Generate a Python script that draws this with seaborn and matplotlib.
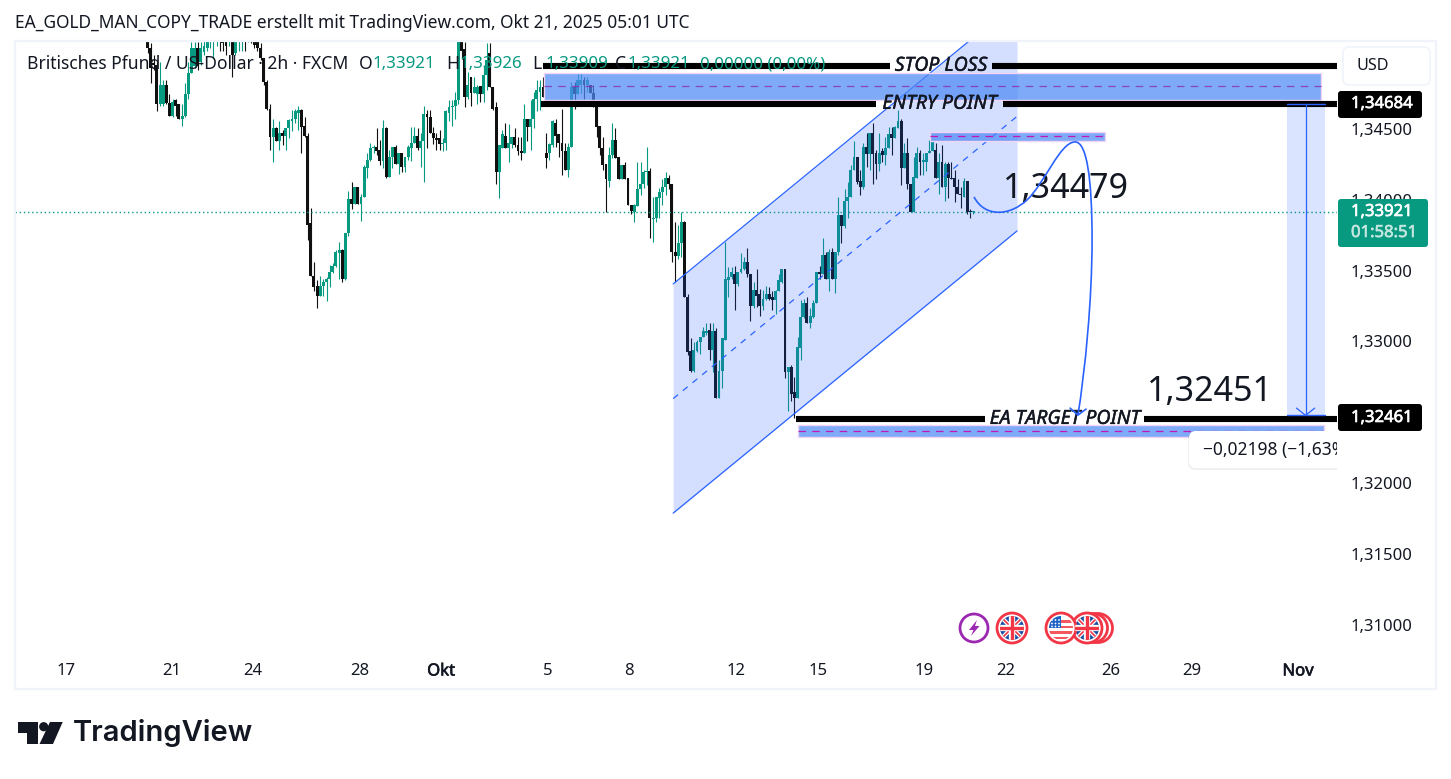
import numpy as np
import pandas as pd
import matplotlib
matplotlib.use("Agg")
import matplotlib.pyplot as plt
import matplotlib.patheffects as pe
import seaborn as sns
from matplotlib.patches import Rectangle, Circle, Polygon, FancyBboxPatch, PathPatch
from matplotlib.path import Path
from matplotlib.transforms import ScaledTranslation

# kurse in 1/10000 (oben abgeschnittene kerzen sind geschaetzt)
opens = [
    13512,13508,13497,13496,13468,13468,13482,13469,13460,13471,
    13468,13458,13460,13475,13490,13495,13508,13498,13505,13508,
    13512,13516,13515,13520,13518,13515,13513,13518,13504,13513,
    13515,13519,13516,13519,13515,13512,13508,13501,13484,13465,
    13445,13451,13442,13448,13446,13451,13456,13458,13462,13464,
    13453,13446,13384,13347,13340,13333,13340,13343,13345,13350,
    13354,13363,13365,13345,13377,13401,13398,13410,13398,13403,
    13423,13429,13437,13438,13436,13428,13451,13417,13431,13438,
    13426,13434,13424,13431,13437,13441,13446,13437,13442,13461,
    13459,13448,13444,13444,13440,13441,13462,13466,13467,13471,
    13515,13507,13473,13487,13476,13475,13481,13475,13489,13504,
    13480,13466,13420,13437,13446,13437,13440,13445,13439,13435,
    13434,13458,13452,13458,13472,13477,13480,13434,13434,13439,
    13455,13447,13441,13435,13422,13438,13480,13475,13482,13485,
    13482,13482,13476,13471,13453,13437,13426,13414,13432,13443,
    13431,13415,13425,13416,13397,13392,13396,13408,13412,13420,
    13421,13387,13388,13402,13406,13410,13416,13412,13364,13361,
    13370,13385,13332,13294,13280,13294,13300,13304,13307,13309,
    13295,13308,13261,13280,13302,13344,13346,13348,13341,13350,
    13352,13357,13348,13326,13337,13334,13326,13331,13334,13332,
    13330,13336,13343,13352,13279,13283,13265,13261,13296,13318,
    13328,13314,13318,13328,13350,13348,13362,13345,13364,13345,
    13364,13390,13382,13400,13403,13422,13431,13414,13410,13438,
    13433,13448,13434,13426,13435,13432,13437,13447,13444,13451,
    13456,13423,13434,13412,13392,13416,13434,13427,13427,13434,
    13435,13436,13416,13427,13410,13426,13416,13416,13410,13405,
    13403,13414,13393,13392,
]
highs = [
    13513,13511,13503,13498,13498,13485,13485,13475,13472,13472,
    13468,13468,13483,13498,13512,13512,13512,13512,13513,13516,
    13522,13523,13522,13522,13520,13517,13522,13520,13522,13522,
    13522,13521,13522,13521,13517,13514,13511,13501,13485,13468,
    13458,13452,13456,13450,13451,13458,13464,13465,13467,13465,
    13459,13448,13395,13357,13344,13347,13345,13346,13355,13356,
    13365,13371,13366,13377,13407,13413,13410,13410,13405,13425,
    13434,13441,13439,13451,13443,13457,13452,13436,13438,13439,
    13434,13434,13431,13439,13452,13452,13451,13448,13467,13464,
    13464,13452,13448,13450,13444,13464,13471,13471,13477,13520,
    13520,13512,13491,13487,13487,13482,13481,13496,13511,13511,
    13480,13470,13439,13450,13455,13454,13445,13451,13445,13445,
    13468,13458,13471,13477,13485,13485,13487,13448,13441,13457,
    13458,13447,13465,13441,13441,13484,13484,13490,13490,13487,
    13487,13482,13482,13471,13453,13445,13426,13438,13455,13451,
    13431,13425,13427,13416,13397,13398,13427,13427,13422,13438,
    13423,13403,13403,13409,13415,13420,13418,13412,13385,13383,
    13392,13386,13334,13303,13300,13302,13304,13311,13314,13314,
    13314,13310,13288,13303,13371,13353,13353,13354,13350,13363,
    13360,13367,13348,13343,13352,13338,13337,13340,13339,13336,
    13337,13348,13352,13352,13283,13284,13276,13304,13330,13331,
    13332,13324,13330,13350,13354,13374,13364,13366,13367,13364,
    13403,13390,13408,13413,13425,13442,13431,13422,13441,13448,
    13448,13455,13436,13448,13437,13445,13452,13452,13453,13464,
    13458,13441,13444,13412,13431,13438,13436,13434,13434,13443,
    13442,13441,13434,13439,13427,13427,13427,13422,13415,13410,
    13416,13414,13394,13393,
]
lows = [
    13504,13483,13492,13463,13467,13467,13468,13460,13459,13460,
    13458,13453,13459,13472,13490,13494,13492,13496,13503,13506,
    13508,13501,13509,13506,13506,13503,13509,13487,13503,13506,
    13506,13506,13512,13511,13508,13506,13499,13482,13464,13436,
    13427,13442,13436,13439,13436,13444,13449,13455,13450,13434,
    13445,13372,13347,13336,13324,13333,13333,13329,13339,13349,
    13353,13345,13343,13344,13375,13394,13398,13398,13386,13403,
    13416,13428,13434,13432,13425,13423,13416,13417,13423,13426,
    13419,13420,13420,13429,13428,13441,13436,13424,13413,13437,
    13448,13440,13436,13436,13435,13436,13456,13453,13458,13468,
    13500,13466,13472,13467,13476,13468,13470,13470,13478,13480,
    13464,13412,13402,13437,13437,13427,13437,13438,13432,13429,
    13434,13442,13436,13451,13463,13464,13473,13423,13429,13438,
    13438,13431,13418,13422,13417,13438,13465,13475,13476,13472,
    13477,13476,13466,13445,13432,13422,13392,13410,13430,13430,
    13415,13415,13415,13397,13391,13385,13396,13404,13409,13411,
    13374,13371,13385,13388,13397,13404,13408,13357,13343,13359,
    13360,13332,13291,13279,13279,13293,13292,13304,13305,13288,
    13279,13261,13261,13268,13302,13332,13345,13323,13340,13349,
    13351,13346,13315,13324,13325,13319,13323,13330,13330,13323,
    13320,13336,13342,13275,13252,13259,13247,13261,13288,13317,
    13314,13310,13317,13328,13345,13348,13345,13336,13345,13335,
    13362,13370,13381,13388,13403,13422,13412,13404,13408,13424,
    13422,13412,13415,13421,13427,13425,13437,13432,13444,13451,
    13411,13423,13408,13392,13392,13416,13418,13418,13421,13434,
    13435,13416,13405,13410,13400,13402,13415,13399,13405,13395,
    13403,13391,13388,13391,
]
closes = [
    13508,13494,13496,13468,13482,13482,13469,13460,13470,13467,
    13458,13460,13475,13490,13508,13508,13495,13508,13509,13512,
    13520,13522,13520,13513,13511,13509,13520,13503,13520,13520,
    13520,13515,13520,13512,13510,13508,13501,13484,13465,13445,
    13451,13442,13448,13446,13451,13457,13458,13463,13464,13452,
    13446,13383,13347,13339,13333,13340,13343,13345,13350,13354,
    13364,13365,13345,13377,13401,13398,13410,13398,13403,13424,
    13429,13437,13438,13435,13428,13451,13417,13431,13438,13426,
    13434,13424,13431,13438,13441,13446,13437,13442,13461,13459,
    13448,13444,13443,13440,13441,13463,13466,13467,13471,13515,
    13506,13473,13482,13476,13480,13480,13475,13489,13499,13480,
    13465,13420,13439,13447,13437,13441,13445,13439,13435,13434,
    13458,13452,13458,13472,13478,13480,13473,13430,13440,13456,
    13446,13441,13435,13422,13438,13480,13475,13485,13485,13482,
    13485,13476,13470,13452,13437,13425,13415,13432,13443,13430,
    13415,13425,13415,13397,13393,13397,13408,13412,13420,13421,
    13388,13388,13403,13406,13410,13416,13412,13364,13361,13370,
    13385,13332,13293,13280,13295,13300,13304,13308,13308,13295,
    13308,13261,13280,13303,13345,13346,13350,13341,13350,13352,
    13357,13348,13326,13337,13333,13326,13331,13334,13331,13330,
    13336,13344,13352,13279,13283,13264,13261,13297,13318,13328,
    13314,13319,13328,13350,13348,13362,13345,13364,13345,13364,
    13390,13382,13400,13403,13422,13431,13413,13410,13438,13433,
    13448,13433,13426,13434,13432,13437,13447,13444,13452,13456,
    13423,13434,13412,13392,13417,13434,13427,13429,13434,13435,
    13442,13416,13427,13410,13426,13416,13415,13410,13405,13404,
    13414,13392,13392,13392,
]

time_labels = ["17", "21", "24", "28", "Okt", "5", "8", "12", "15", "19", "22", "26", "29", "Nov"]
time_ticks = [-26, 7.8, 33.6, 67.7, 93.5, 127.5, 153.3, 187.4, 213.5, 247.3, 273.4, 306.8, 332.7, 366.4]
price_ticks = [1.31, 1.315, 1.32, 1.325, 1.33, 1.335, 1.34, 1.345]
last_price = 1.33921
stop_price = 1.34952
entry_price = 1.34684
target_price = 1.32461
measure_end = 1.32486

GREEN = "#089981"
BLACK = "#131722"
CANDLE = "#101010"
BLUE = "#2962ff"
FONT = "Noto Sans"
W, H = 1451, 779

sns.set_theme(style="white")
plt.rcParams["font.family"] = [FONT, "DejaVu Sans"]


def heavy(col, w=0.45):
    # Noto Sans hat hier keinen fetten schnitt, also mit kontur verstaerken
    return [pe.withStroke(linewidth=w, foreground=col)]


df = pd.DataFrame({"open": opens, "high": highs, "low": lows, "close": closes}) / 10000
df["n"] = np.arange(len(df))
df["bottom"] = df[["open", "close"]].min(axis=1)
df["size"] = (df["open"] - df["close"]).abs().clip(lower=0.00008)
up = df[df["close"] >= df["open"]]
down = df[df["close"] < df["open"]]

fig = plt.figure(figsize=(W / 100, H / 100), dpi=100, facecolor="white")
ax = fig.add_axes([15 / W, (H - 660) / H, 1322 / W, 618 / H])

# kerzen
for part, col in [(up, GREEN), (down, CANDLE)]:
    ax.vlines(part["n"], part["low"], part["high"], color=col, lw=0.8, zorder=2)
    sns.barplot(data=part, x="n", y="size", bottom=part["bottom"].values, native_scale=True,
                color=col, saturation=1, width=0.92, errorbar=None, linewidth=0, ax=ax, zorder=2)

ax.set_xlim(-42.2, 378.8)
ax.set_ylim(1.3076, 1.3512)
ax.set_xlabel("")
ax.set_ylabel("")
ax.set_xticks(time_ticks, time_labels)
ax.set_yticks(price_ticks, [f"{p:.5f}".replace(".", ",") for p in price_ticks])
ax.yaxis.tick_right()
ax.tick_params(axis="both", length=0, labelsize=12, colors=BLACK)
ax.tick_params(axis="y", pad=10)
ax.tick_params(axis="x", pad=2.5)
# preislabels einen pixel hoeher
up_1px = ScaledTranslation(0, 1 / 100, fig.dpi_scale_trans)
for lab in ax.get_yticklabels():
    lab.set_transform(lab.get_transform() + up_1px)
for lab in ax.get_xticklabels():
    if lab.get_text() in ("Okt", "Nov"):
        lab.set_path_effects(heavy(BLACK))
for s in ax.spines.values():
    s.set_visible(False)

ax.axhline(last_price, color=GREEN, lw=1, ls=(0, (1, 2)), zorder=2.5)

# aufsteigender kanal
chan_n = [167.4, 276.9]
chan_top = [1.33413, 1.35404]
chan_bot = [1.31796, 1.33787]
chan_mid = [1.32604, 1.34595]
ax.fill_between(chan_n, chan_bot, chan_top, color=BLUE, alpha=0.2, lw=0, zorder=3)
ax.plot(chan_n, chan_top, color=BLUE, lw=0.9, zorder=3)
ax.plot(chan_n, chan_bot, color=BLUE, lw=0.9, zorder=3)
ax.plot(chan_n, chan_mid, color=BLUE, lw=0.9, ls=(0, (5, 5)), zorder=3)


def zone(n0, n1, p_top, p_bot, dash, dash_alpha=1.0):
    ax.add_patch(Rectangle((n0, p_bot), n1 - n0, p_top - p_bot, fc="#4d8af5", alpha=0.72, lw=0, zorder=3.2))
    ax.add_patch(Rectangle((n0, p_bot), n1 - n0, p_top - p_bot, fc="none", ec="#f3d4f5", lw=1, zorder=3.2))
    ax.plot([n0, n1], [(p_top + p_bot) / 2] * 2, color=dash, lw=0.9, alpha=dash_alpha,
            ls=(0, (6, 5)), zorder=3.3)


zone(126.3, 373.8, 1.34902, 1.34712, "#8e24aa", 0.75)
zone(249.2, 305.0, 1.34486, 1.34422, "#c218b4")
zone(207.1, 374.8, 1.32417, 1.32333, "#c218b4")


def level(price, n0, n1, n2, n3, label):
    for a, b in [(n0, n1), (n2, n3)]:
        ax.plot([a, b], [price, price], color="black", lw=4.4, solid_capstyle="butt", zorder=3.5)
    ax.text((n1 + n2) / 2, price, label, ha="center", va="center", fontsize=14, style="italic",
            color=BLACK, zorder=3.6, path_effects=heavy(BLACK, 0.3))


level(stop_price, 126.0, 236.4, 269.0, 378.8, "STOP LOSS")
level(entry_price, 125.3, 232.0, 272.4, 378.8, "ENTRY POINT")
level(target_price, 206.6, 266.8, 317.4, 378.8, "EA TARGET POINT")

ax.text(272.5, 1.3408, "1,34479", fontsize=24.5, color=BLACK, va="center", zorder=4)
ax.text(318.3, 1.32651, "1,32451", fontsize=24.5, color=BLACK, va="center", zorder=4)

# geschwungener pfeil
curve_n = [263.2, 266.7, 274.7, 280.1, 285.8, 290.6, 295.4, 299.2, 300.8, 300.8, 300.8, 298.6, 296.3]
curve_p = [1.34027, 1.33879, 1.33893, 1.34006, 1.34126, 1.34415, 1.34415,
           1.34415, 1.34147, 1.33723, 1.33300, 1.32805, 1.32488]
codes = [Path.MOVETO] + [Path.CURVE4] * 12
ax.add_patch(PathPatch(Path(np.column_stack([curve_n, curve_p]), codes), fc="none", ec=BLUE, lw=1.2, zorder=4))
ax.plot([293.8, 296.3, 298.9], [1.32537, 1.32488, 1.32530], color=BLUE, lw=1.2, zorder=4)

# messwerkzeug rechts
ax.add_patch(Rectangle((362.9, measure_end), 12.1, entry_price - measure_end, fc=BLUE, alpha=0.17, lw=0, zorder=3))
ax.plot([362.9, 375], [entry_price] * 2, color=BLUE, lw=1, zorder=3.7)
ax.plot([362.9, 375], [measure_end] * 2, color=BLUE, lw=1, zorder=3.7)
ax.plot([368.8, 368.8], [entry_price, measure_end], color=BLUE, lw=0.9, zorder=3.7)
ax.plot([365.9, 368.8, 371.7], [1.32537, measure_end, 1.32537], color=BLUE, lw=0.9, zorder=3.7)

# oberflaeche in pixeln: rahmen, legende, preisschilder, logo
ui = fig.add_axes([0, 0, 1, 1], facecolor="none")
ui.set_xlim(0, W)
ui.set_ylim(H, 0)
ui.axis("off")

ui.add_patch(Rectangle((15, 41), 1421, 648, fc="none", ec="#f0f3fa", lw=1.6))
ui.text(15, 23, "EA_GOLD_MAN_COPY_TRADE erstellt mit TradingView.com, Okt 21, 2025 05:01 UTC",
        fontsize=12.5, color=BLACK, va="center")

legend_parts = [
    (27, "Britisches Pfund / US-Dollar · 2h · FXCM", BLACK, 12.6), (359, "O", BLACK, 12.6),
    (372, "1,33921", GREEN, 12.2), (446, "H", BLACK, 12.6), (459, "1,33926", GREEN, 12.2),
    (532, "L", BLACK, 12.6), (545, "1,33909", GREEN, 12.2), (615, "C", BLACK, 12.6),
    (627, "1,33921", GREEN, 12.2), (700, "0,00000 (0,00%)", GREEN, 12.2),
]
for x, txt, col, fs in legend_parts:
    ui.text(x, 64, txt, fontsize=fs, color=col, va="center")


def tag(x0, y0, w, h, fc, ec="none", rad=3):
    ui.add_patch(FancyBboxPatch((x0 + rad, y0 + rad), w - 2 * rad, h - 2 * rad,
                                boxstyle=f"round,pad={rad},rounding_size={rad}", fc=fc, ec=ec, lw=1.2))


tag(1343, 47, 87, 38, "white", "#f0f3fa", rad=6)
ui.text(1357, 66, "USD", fontsize=11.6, color=BLACK, va="center")
tag(1338, 91, 84, 27, "black")
ui.text(1351, 104, "1,34684", fontsize=12, color="white", va="center", path_effects=heavy("white"))
tag(1338, 404, 84, 27, "black")
ui.text(1351, 418, "1,32461", fontsize=12, color="white", va="center", path_effects=heavy("white"))
tag(1338, 199, 90, 48, GREEN)
ui.text(1351, 212, "1,33921", fontsize=12, color="white", va="center", path_effects=heavy("white"))
ui.text(1351, 233, "01:58:51", fontsize=12, color="#c3e6df", va="center", path_effects=heavy("#c3e6df"))

# tooltip, rechts von der preisachse abgeschnitten
clip = Rectangle((0, 0), 1337, H, transform=ui.transData)
shadow = FancyBboxPatch((1195, 438), 170, 25, boxstyle="round,pad=7,rounding_size=7", fc="#000000", alpha=0.06, lw=0)
box = FancyBboxPatch((1196, 438), 170, 23, boxstyle="round,pad=7,rounding_size=7", fc="white", lw=0)
tip = ui.text(1203, 450, "\u22120,02198 (\u22121,63%)", fontsize=12.5, color=BLACK, va="center")
for art in (shadow, box):
    ui.add_patch(art)
for art in (shadow, box, tip):
    art.set_clip_path(clip)
    art.set_clip_on(True)


def uk_flag(cx, cy, r=15):
    ui.add_patch(Circle((cx, cy), r, fc="white", ec="#f23645", lw=2))
    disc = Circle((cx, cy), r - 3, transform=ui.transData)
    for x0, y0 in [(-1, -1), (1, -1), (-1, 1), (1, 1)]:
        q = ui.add_patch(Rectangle((cx + (x0 - 1) * r / 2, cy + (y0 - 1) * r / 2), r, r, fc="#1c4fa1", lw=0))
        q.set_clip_path(disc)
    for dx, dy in [(1, 1), (1, -1)]:
        for col, lw in [("white", 3), ("#f23645", 1.2)]:
            l, = ui.plot([cx - dx * r, cx + dx * r], [cy - dy * r, cy + dy * r], color=col, lw=lw)
            l.set_clip_path(disc)
    for col, lw in [("white", 4.5), ("#f23645", 2.4)]:
        for xs, ys in [([cx - r, cx + r], [cy, cy]), ([cx, cx], [cy - r, cy + r])]:
            l, = ui.plot(xs, ys, color=col, lw=lw)
            l.set_clip_path(disc)


def us_flag(cx, cy, r=15):
    ui.add_patch(Circle((cx, cy), r, fc="white", ec="#f23645", lw=2))
    disc = Circle((cx, cy), r - 3, transform=ui.transData)
    for dy in (-8, -2.5, 3, 8.5):
        s = ui.add_patch(Rectangle((cx - r, cy + dy), 2 * r, 2.8, fc="#f4575f", lw=0))
        s.set_clip_path(disc)
    c = ui.add_patch(Rectangle((cx - r, cy - r), r, r, fc="#1c62c4", lw=0))
    c.set_clip_path(disc)
    for sx in (-9, -5.5, -2):
        for sy in (-8, -4.5, -1.5):
            ui.add_patch(Circle((cx + sx, cy + sy), 0.9, fc="white", lw=0))


ui.add_patch(Circle((974, 628), 14, fc="white", ec="#9c27b0", lw=2))
ui.add_patch(Polygon([(977, 620), (969, 630), (973.5, 630), (971, 636), (979.5, 626), (975, 626)], fc="#9c27b0", lw=0))
uk_flag(1012, 628)
ui.add_patch(Circle((1098, 628), 14.5, fc="white", ec="#f23645", lw=2))
ui.add_patch(Circle((1093, 628), 14.5, fc="white", ec="#f23645", lw=2))
uk_flag(1087, 628)
us_flag(1061, 628)

# tradingview logo
ui.add_patch(Polygon([(18, 722), (38, 722), (38, 744), (27, 744), (27, 733), (18, 733)], fc=BLACK, lw=0))
ui.add_patch(Circle((43.7, 726.7), 4.6, fc=BLACK, lw=0))
ui.add_patch(Polygon([(50, 722), (62.7, 722), (53, 744), (39.5, 744)], fc=BLACK, lw=0))
ui.text(73, 733, "TradingView", fontsize=21, fontweight="semibold", family=["Inter", "DejaVu Sans"], color=BLACK, va="center")

fig.savefig("out.png", dpi=100)
